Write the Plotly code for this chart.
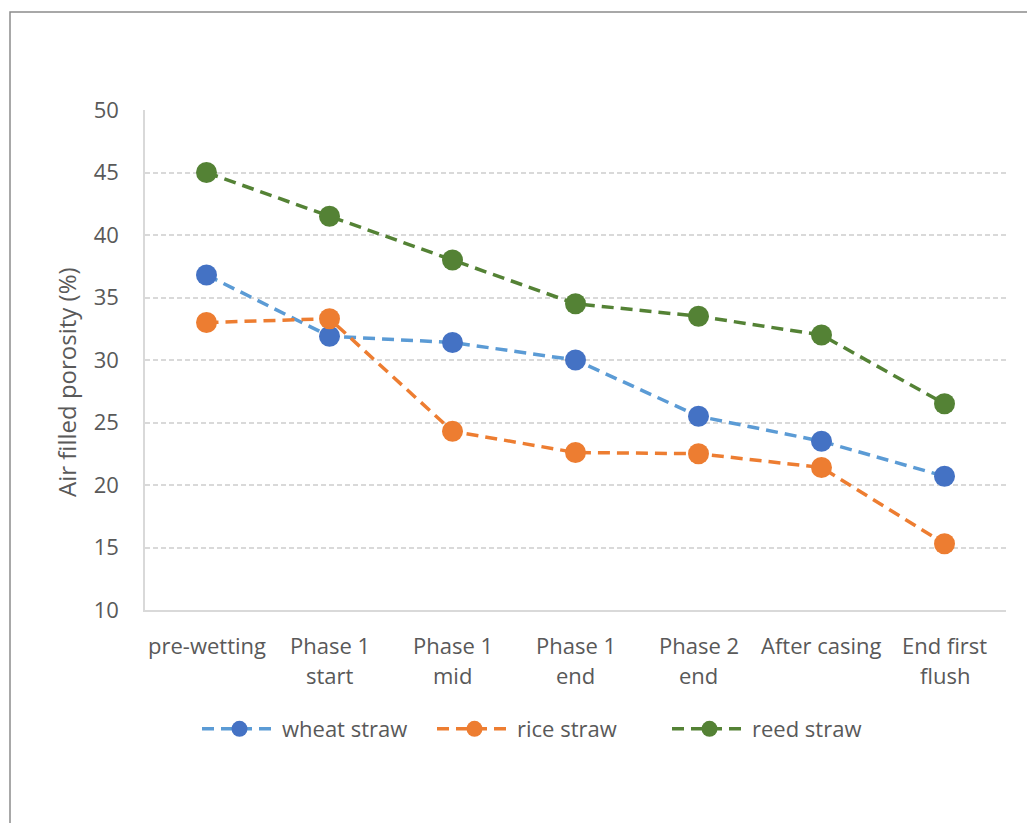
import plotly.graph_objects as go

# Composting stages (x categories); "\n" marks a wrapped label
stages = ["pre-wetting", "Phase 1\nstart", "Phase 1\nmid", "Phase 1\nend",
          "Phase 2\nend", "After casing", "End first\nflush"]

# Air filled porosity (%) per substrate
wheat_straw = [36.8, 31.9, 31.4, 30.0, 25.5, 23.5, 20.7]
rice_straw = [33.0, 33.3, 24.3, 22.6, 22.5, 21.4, 15.3]
reed_straw = [45.0, 41.5, 38.0, 34.5, 33.5, 32.0, 26.5]

y_ticks = [10, 15, 20, 25, 30, 35, 40, 45, 50]

FONT = "Open Sans"
TXT = "#595959"
FS = 22
x_idx = list(range(len(stages)))

series = [
    ("wheat straw", wheat_straw, "#5B9BD5", "#4472C4"),
    ("rice straw", rice_straw, "#ED7D31", "#ED7D31"),
    ("reed straw", reed_straw, "#548235", "#548235"),
]

fig = go.Figure()
for name, vals, line_col, mk_col in series:
    fig.add_trace(go.Scatter(
        x=x_idx, y=vals, name=name, mode="lines+markers",
        line=dict(color=line_col, width=3.5, dash="12px,7px"),
        marker=dict(color=mk_col, size=21, line=dict(width=0)),
    ))

# Category labels, one annotation per text line
for i, lab in enumerate(stages):
    for j, part in enumerate(lab.split("\n")):
        fig.add_annotation(
            x=i, xref="x", y=(610 - 645 - 30 * j) / 500, yref="paper",
            text=part, showarrow=False, xanchor="center", yanchor="middle",
            font=dict(family=FONT, size=FS, color=TXT),
        )

# Y-axis title
fig.add_annotation(
    x=(66 - 145) / 861, xref="paper", y=(610 - 382) / 500, yref="paper",
    text="Air filled porosity (%)", textangle=-90, showarrow=False,
    xanchor="center", yanchor="middle",
    font=dict(family=FONT, size=24, color=TXT),
)

# Chart border
fig.add_shape(
    type="rect", xref="paper", yref="paper",
    x0=(10 - 145) / 861, x1=1.2, y0=-0.6, y1=(610 - 12) / 500,
    line=dict(color="#8C8C8C", width=1.5), fillcolor="rgba(0,0,0,0)",
)

fig.update_layout(
    width=1027, height=823,
    margin=dict(l=145, r=21, t=110, b=213),
    paper_bgcolor="white", plot_bgcolor="white",
    font=dict(family=FONT, size=FS, color=TXT),
    showlegend=True,
    legend=dict(
        orientation="h", x=(197 - 145) / 861, xanchor="left",
        y=(610 - 729) / 500, yanchor="middle",
        font=dict(family=FONT, size=FS, color=TXT),
        itemwidth=75, entrywidth=145,
    ),
    xaxis=dict(
        range=[-0.5, len(stages) - 0.5], tickvals=x_idx,
        showticklabels=False, showgrid=False, zeroline=False,
        showline=True, linecolor="#D9D9D9", linewidth=1.5, ticks="",
    ),
    yaxis=dict(
        range=[10, 50], tickvals=y_ticks, ticktext=[str(v) for v in y_ticks],
        showgrid=True, gridcolor="#D9D9D9", gridwidth=1.5, griddash="5px,3px",
        zeroline=False, showline=True, linecolor="#D9D9D9", linewidth=1.5,
        ticks="", ticklabelstandoff=20,
        tickfont=dict(family=FONT, size=FS, color=TXT),
    ),
)

fig.write_html("out.html")
